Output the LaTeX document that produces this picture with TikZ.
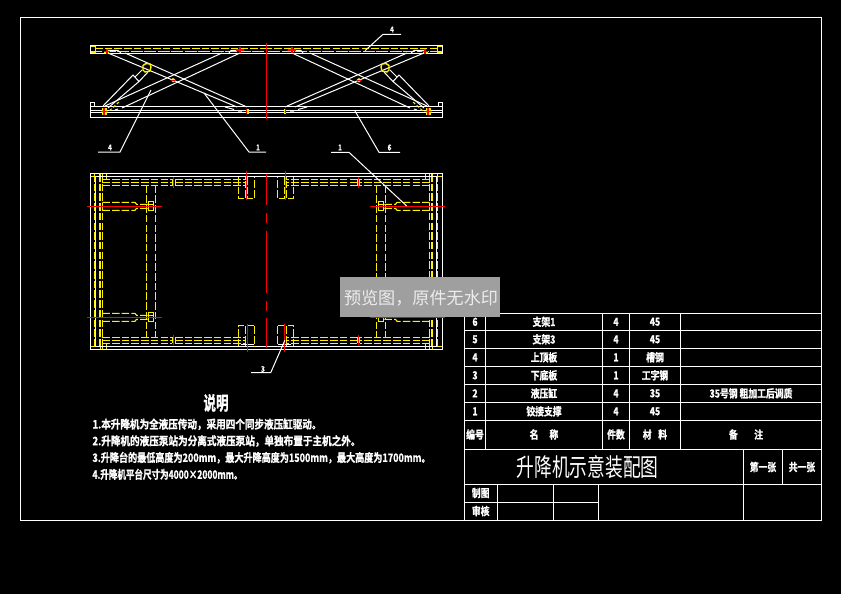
\documentclass[tikz,border=0pt]{standalone}
\usepackage{fontspec}
\newfontfamily\cjk[FakeStretch=0.78]{Noto Sans CJK SC}
\newfontfamily\cjkh[FakeStretch=0.8,FakeBold=1.2]{Noto Sans CJK SC Bold}
\newfontfamily\wm{Noto Sans CJK SC}
\newcommand{\planhalf}{%
  % frame long members
  \foreach \xx in {94.3,100,102.3} \draw[yd] (\xx,174) -- (\xx,348.5);
  \draw[ys] (90,176.3) -- (107,176.3) (100,173.3) -- (100,176.3) (102.3,173.3) -- (102.3,176.3) (106.7,173.3) -- (106.7,179);
  \draw[ys] (90,346.3) -- (107,346.3) (100,346.3) -- (100,349.3) (102.3,346.3) -- (102.3,349.3) (106.7,343.5) -- (106.7,349.3);
  % white outline
  \draw[wl] (266,173.3) -- (90,173.3) -- (90,349.3) -- (266,349.3);
  \draw[wl] (266,176.3) -- (95.5,176.3) -- (95.5,346.3) -- (266,346.3);
  % tracks
  \foreach \yy in {179.3,182.3,185.7,337.3,340.3,343.3} {
    \draw[yd] (102.3,\yy) -- (172.3,\yy);
    \draw[yd] (175,\yy) -- (245.7,\yy);
  }
  \draw[ys] (172.3,179.3) -- (172.3,185.7) (175,179.3) -- (175,185.7) (172.3,337.3) -- (172.3,343.3) (175,337.3) -- (175,343.3);
  \draw[rl] (173.5,177) -- (173.5,188);
  \draw[rl] (173.5,335) -- (173.5,345);
  % cross members
  \draw[yd] (146.3,185.7) -- (146.3,337.3);
  \draw[yd] (155.3,185.7) -- (155.3,337.3);
  % hinge blocks
  \draw[yd] (238.3,177) -- (238.3,198.3) -- (245.7,198.3) -- (245.7,177);
  \draw[yd] (247.7,177) -- (247.7,198.3) -- (254.7,198.3) -- (254.7,177);
  \draw[yd] (238.3,346.3) -- (238.3,325.3) -- (245.7,325.3) -- (245.7,346.3);
  \draw[yd] (247.7,346.3) -- (247.7,325.3) -- (254.7,325.3) -- (254.7,346.3);
  \draw[wl] (241,344.3) -- (254,344.3);
  % cylinders
  \foreach \yy in {206.3,317.3} {
    \draw[yd] (102.3,\yy-4) -- (135,\yy-4) -- (136.5,\yy-2) -- (148.3,\yy-2);
    \draw[yd] (102.3,\yy+4) -- (135,\yy+4) -- (136.5,\yy+2) -- (148.3,\yy+2);
    \draw[ys] (148.3,\yy-5) rectangle (153.7,\yy+4.4);
    \draw[ys] (148.3,\yy-1.5) -- (153.7,\yy-1.5);
    \draw[rt] (87.3,\yy) -- (161.7,\yy);
  }
  \draw[rt] (246.3,171) -- (246.3,200);
  \draw[rl] (247.7,324) -- (247.7,351.7);
}
\newcommand{\sidehalf}{%
  \draw[ys] (90,47) rectangle (95,53);
  \draw[yd] (95,48.4) -- (266,48.4);
  \draw[ylong] (90,51.6) -- (266,51.6);
  \draw[wl] (266,46) -- (90,46) -- (90,53.6) -- (266,53.6);
  \draw[wl] (266,106.7) -- (90,106.7) (266,110) -- (90,110) (266,112.3) -- (90,112.3) (266,117.3) -- (90,117.3) -- (90,102) -- (94,102) -- (94,106.7);
  % scissor arms
  \draw[wl] (108,53) -- (237,107);
  \draw[wl] (125,53) -- (247,107);
  \draw[wl] (105,106) -- (222,53);
  \draw[wl] (122,108) -- (240,53);
  % short plate details
  \draw[wl] (107,50.5) -- (118,50.5) -- (121,53);
  \draw[wl] (229,53) -- (231,50.5) -- (240,50.5);
  \draw[wl] (225,107) -- (234,109.5) (238,111) -- (242,111);
  \draw[wl] (115,110) -- (118,109);
  % cylinder
  \draw[wl] (103,106) -- (133,75) -- (139,81.5) -- (108,108);
  \draw[wl] (139,81.5) -- (148,72);
  \draw[wl] (135,77) -- (142,70);
  \draw[yt] (143,65.5) -- (146,63.5) -- (150,64) -- (151,67) -- (150,71) -- (145,72) -- (143,70) -- cycle;
  \draw[ydf] (119,102) -- (108,112);
  % pins
  \fill[yellow] (101.5,108) rectangle (106.5,114.5);
  \draw[rl] (100.5,111.3) -- (108,111.3) (104,108) -- (104,114.5);
  \draw[ys] (104,52.5) -- (109,52.5);
  \draw[rl] (104,51.5) -- (110,51.5) (107,49) -- (107,54);
  \draw[ys] (243,48) -- (244,52);
  \draw[rl] (236,50) -- (244,50) (240,47) -- (240,53);
  \fill[yellow] (246.5,109) rectangle (248.5,114);
  \draw[rl] (246.3,108.5) -- (246.3,113);
  \fill[yellow] (173,78) -- (175.5,80) -- (173,82.5) -- (170.5,80) -- cycle;
  \draw[red,line width=.7pt] (171,80) -- (175,80);
}
\tikzset{
  wl/.style={draw=white,line width=1pt},
  frm/.style={draw=white,line width=1pt},
  ys/.style={draw=yellow,line width=1pt},
  yt/.style={draw=yellow,line width=1.4pt},
  yd/.style={draw=yellow,line width=1.1pt,dash pattern=on 7.5pt off 2.2pt},
  ylong/.style={draw=yellow,line width=1.3pt,dash pattern=on 12pt off 1.5pt},
  ydf/.style={draw=yellow,line width=1pt,dash pattern=on 3pt off 2pt},
  rl/.style={draw=red,line width=1.1pt},
  rt/.style={draw=red,line width=1.3pt},
  cell/.style={text=white,inner sep=0pt,font=\cjkh\fontsize{11}{11}\selectfont},
  note/.style={text=white,inner sep=0pt,anchor=west},
  lab/.style={text=white,inner sep=0pt,font=\cjkh\fontsize{8}{8}\selectfont}
}
\begin{document}
\begin{tikzpicture}[x=1pt,y=-1pt]
\useasboundingbox (0,0) rectangle (841,594);
\fill[black] (0,0) rectangle (841,594);
% sheet frame
\draw[frm] (20,18) rectangle (821,520);
% side view
\sidehalf
\begin{scope}[shift={(532,0)},xscale=-1]\sidehalf\end{scope}
\draw[rt] (266.4,43) -- (266.4,119);
% plan view
\planhalf
\begin{scope}[shift={(532,0)},xscale=-1]\planhalf\end{scope}
\draw[rt] (266.4,174) -- (266.4,205) (266.4,213) -- (266.4,222.7) (266.4,231) -- (266.4,292.7) (266.4,301) -- (266.4,310.7) (266.4,318) -- (266.4,348);
% leaders
\draw[wl] (365,50.7) -- (383,34.3) -- (401,34.3);
\draw[wl] (151,90) -- (120,152) -- (98,152);
\draw[wl] (204,93) -- (249,152) -- (266,152);
\draw[wl] (331,152.3) -- (349,152.3) -- (406.7,206);
\draw[wl] (355,111) -- (379,152.3) -- (400,152.3);
\draw[wl] (251,372.7) -- (270.7,372.7) -- (285,340);
\node[lab] (l4a) at (392,29.5) {4};
\node[lab] (l4b) at (110,147.5) {4};
\node[lab] (l1a) at (258,147.5) {1};
\node[lab] (l1b) at (340,147.5) {1};
\node[lab] (l6) at (389.5,147.5) {6};
\node[lab] (l3) at (263,369) {3};
% table
\draw[frm] (464.7,313.3) rectangle (821.3,520.3);
\foreach \yy in {330.3,348.3,366.3,384.3,402.3,420.3,449.3,484.3} \draw[frm] (464.7,\yy) -- (821.3,\yy);
\foreach \xx in {485.3,602.7,629.3,680.3} \draw[frm] (\xx,313.3) -- (\xx,449.3);
\draw[frm] (743.3,449.3) -- (743.3,520.3);
\draw[frm] (782.3,449.3) -- (782.3,484.3);
\draw[frm] (497.7,484.3) -- (497.7,520.3);
\draw[frm] (553.7,484.3) -- (553.7,520.3);
\draw[frm] (598.3,484.3) -- (598.3,520.3);
\draw[frm] (464.7,502.3) -- (598.3,502.3);
\node[cell] (a1) at (475,321.8) {6};
\node[cell] (a2) at (475,339.3) {5};
\node[cell] (a3) at (475,357.3) {4};
\node[cell] (a4) at (475,375.3) {3};
\node[cell] (a5) at (475,393.3) {2};
\node[cell] (a6) at (475,411.3) {1};
\node[cell] (a7) at (475,434.5) {编号};
\node[cell] (b1) at (544,321.8) {支架1};
\node[cell] (b2) at (544,339.3) {支架3};
\node[cell] (b3) at (544,357.3) {上顶板};
\node[cell] (b4) at (544,375.3) {下底板};
\node[cell] (b5) at (544,393.3) {液压缸};
\node[cell] (b6) at (544,411.3) {铰接支撑};
\node[cell] (b7) at (544,434.5) {名\hspace{1em}称};
\node[cell] (c1) at (616,321.8) {4};
\node[cell] (c2) at (616,339.3) {4};
\node[cell] (c3) at (616,357.3) {1};
\node[cell] (c4) at (616,375.3) {1};
\node[cell] (c5) at (616,393.3) {4};
\node[cell] (c6) at (616,411.3) {4};
\node[cell] (c7) at (616,434.5) {件数};
\node[cell] (d1) at (655,321.8) {45};
\node[cell] (d2) at (655,339.3) {45};
\node[cell] (d3) at (655,357.3) {槽钢};
\node[cell] (d4) at (655,375.3) {工字钢};
\node[cell] (d5) at (655,393.3) {35};
\node[cell] (d6) at (655,411.3) {45};
\node[cell] (d7) at (655,434.5) {材\hspace{.6em}料};
\node[cell] (e5) at (751,393.3) {35号钢 粗加工后调质};
\node[cell] (e7) at (746,434.5) {备\hspace{1.5em}注};
\node[text=white,inner sep=0pt] (title) at (587.5,467) {\resizebox{142pt}{21pt}{\cjk 升降机示意装配图}};
\node[cell] (f1) at (763,467) {第一张};
\node[cell] (f2) at (802,467) {共一张};
\node[cell] (g1) at (480.7,493) {制图};
\node[cell] (g2) at (480.7,511) {审核};
% notes
\node[text=white,inner sep=0pt] (nt) at (216,403) {\resizebox{25pt}{16pt}{\cjkh 说明}};
\node[note] (n1) at (92.3,424.3) {\resizebox{229pt}{10pt}{\cjkh 1.本升降机为全液压传动，采用四个同步液压缸驱动。}};
\node[note] (n2) at (92.3,441) {\resizebox{268pt}{10pt}{\cjkh 2.升降机的液压泵站为分离式液压泵站，单独布置于主机之外。}};
\node[note] (n3) at (92.3,457.7) {\resizebox{338pt}{10pt}{\cjkh 3.升降台的最低高度为200mm，最大升降高度为1500mm，最大高度为1700mm。}};
\node[note] (n4) at (92.3,474.3) {\resizebox{150pt}{10pt}{\cjkh 4.升降机平台尺寸为4000×2000mm。}};
% watermark
\fill[gray!75] (340,277) rectangle (500,317);
\node[text=white!85!gray,inner sep=0pt] (wmk) at (421,298) {\resizebox{154pt}{!}{\wm 预览图，原件无水印}};
\end{tikzpicture}
\end{document}
